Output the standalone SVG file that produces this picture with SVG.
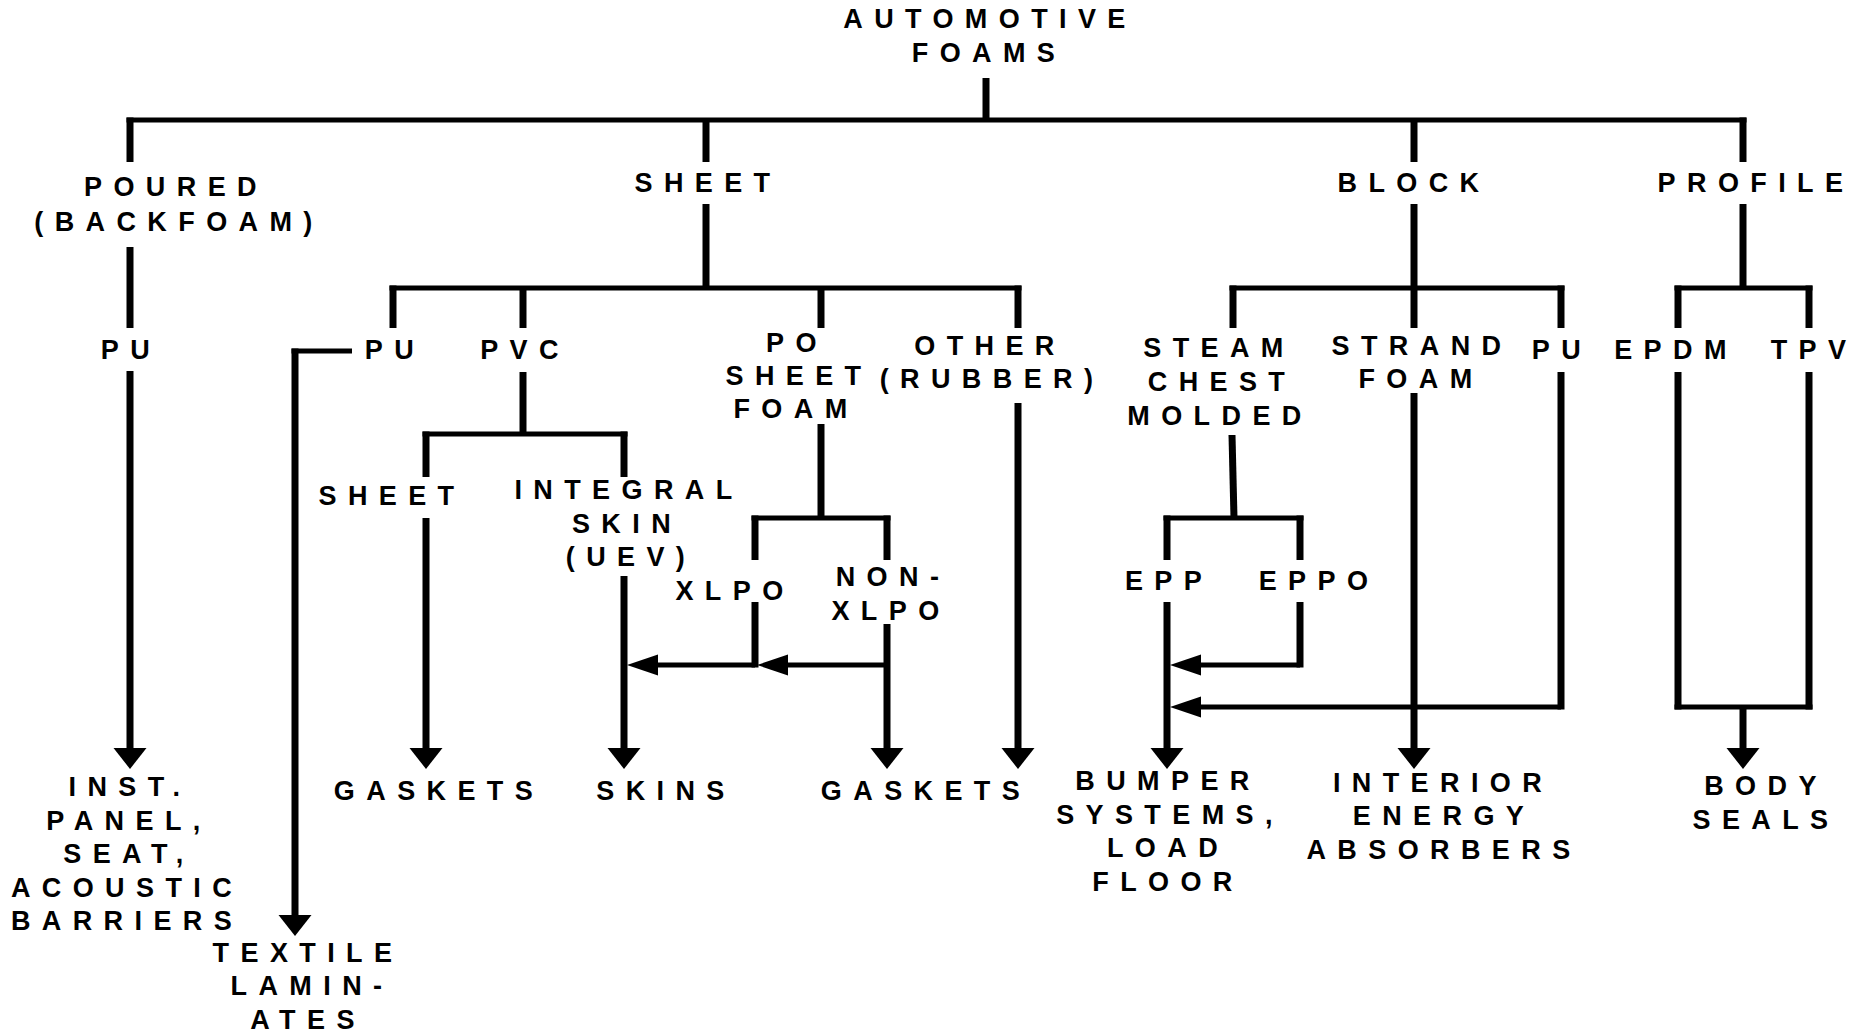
<svg xmlns="http://www.w3.org/2000/svg" width="1857" height="1034" viewBox="0 0 1857 1034">
<style>
.t{font-family:"Liberation Sans",Arial,sans-serif;font-weight:bold;font-size:27px;letter-spacing:11.4px;text-anchor:middle;fill:#000}
.v{stroke:#000;stroke-width:7;fill:none}
.h{stroke:#000;stroke-width:5;fill:none}
</style>
<defs>
<polygon id="ad" points="-16.5,-21 16.5,-21 0,0" fill="#000"/>
<polygon id="al" points="0,0 31,-10.5 31,10.5" fill="#000"/>
</defs>
<rect width="1857" height="1034" fill="#fff"/>
<g id="connectors">
<line class="v" x1="986" y1="78" x2="986" y2="120"/>
<line class="h" x1="126.5" y1="120" x2="1746.5" y2="120"/>
<line class="v" x1="130" y1="117.5" x2="130" y2="162"/>
<line class="v" x1="130" y1="247" x2="130" y2="328"/>
<line class="v" x1="130" y1="371" x2="130" y2="752"/>
<use href="#ad" x="130" y="769"/>
<line class="v" x1="706" y1="120" x2="706" y2="162"/>
<line class="v" x1="706" y1="204" x2="706" y2="288"/>
<line class="h" x1="389.5" y1="288" x2="1021.5" y2="288"/>
<line class="v" x1="393" y1="285.5" x2="393" y2="328"/>
<line class="v" x1="523" y1="288" x2="523" y2="328"/>
<line class="v" x1="821" y1="288" x2="821" y2="328"/>
<line class="v" x1="1018" y1="285.5" x2="1018" y2="328"/>
<line class="h" x1="352" y1="351" x2="291.5" y2="351"/>
<line class="v" x1="295" y1="348.5" x2="295" y2="919"/>
<use href="#ad" x="295" y="936"/>
<line class="v" x1="523" y1="372" x2="523" y2="434"/>
<line class="h" x1="422.5" y1="434" x2="627.5" y2="434"/>
<line class="v" x1="426" y1="431.5" x2="426" y2="477"/>
<line class="v" x1="426" y1="518" x2="426" y2="752"/>
<use href="#ad" x="426" y="769"/>
<line class="v" x1="624" y1="431.5" x2="624" y2="477"/>
<line class="v" x1="624" y1="576" x2="624" y2="752"/>
<use href="#ad" x="624" y="769"/>
<line class="v" x1="821" y1="424" x2="821" y2="518"/>
<line class="h" x1="751.5" y1="518" x2="890.5" y2="518"/>
<line class="v" x1="755" y1="515.5" x2="755" y2="560"/>
<line class="v" x1="887" y1="515.5" x2="887" y2="560"/>
<line class="v" x1="755" y1="602" x2="755" y2="667.5"/>
<line class="h" x1="755" y1="665" x2="650" y2="665"/>
<use href="#al" x="627" y="665"/>
<line class="v" x1="887" y1="624" x2="887" y2="752"/>
<use href="#ad" x="887" y="769"/>
<line class="h" x1="887" y1="665" x2="780" y2="665"/>
<use href="#al" x="757" y="665"/>
<line class="v" x1="1018" y1="403" x2="1018" y2="752"/>
<use href="#ad" x="1018" y="769"/>
<line class="v" x1="1414" y1="120" x2="1414" y2="162"/>
<line class="v" x1="1414" y1="204" x2="1414" y2="328"/>
<line class="h" x1="1229.5" y1="288" x2="1564.5" y2="288"/>
<line class="v" x1="1233" y1="285.5" x2="1233" y2="328"/>
<line class="v" x1="1561" y1="285.5" x2="1561" y2="328"/>
<line class="v" x1="1232" y1="435" x2="1234" y2="518"/>
<line class="h" x1="1163.5" y1="518" x2="1303.5" y2="518"/>
<line class="v" x1="1167" y1="515.5" x2="1167" y2="560"/>
<line class="v" x1="1300" y1="515.5" x2="1300" y2="560"/>
<line class="v" x1="1167" y1="602" x2="1167" y2="752"/>
<use href="#ad" x="1167" y="769"/>
<line class="v" x1="1300" y1="602" x2="1300" y2="667.5"/>
<line class="h" x1="1300" y1="665" x2="1195" y2="665"/>
<use href="#al" x="1170" y="665"/>
<line class="v" x1="1414" y1="393" x2="1414" y2="752"/>
<use href="#ad" x="1414" y="769"/>
<line class="v" x1="1561" y1="372" x2="1561" y2="709.5"/>
<line class="h" x1="1561" y1="707" x2="1195" y2="707"/>
<use href="#al" x="1170" y="707"/>
<line class="v" x1="1743" y1="117.5" x2="1743" y2="162"/>
<line class="v" x1="1743" y1="204" x2="1743" y2="288"/>
<line class="h" x1="1674.5" y1="288" x2="1812.5" y2="288"/>
<line class="v" x1="1678" y1="285.5" x2="1678" y2="328"/>
<line class="v" x1="1809" y1="285.5" x2="1809" y2="328"/>
<line class="v" x1="1678" y1="372" x2="1678" y2="709.5"/>
<line class="v" x1="1809" y1="372" x2="1809" y2="709.5"/>
<line class="h" x1="1674.5" y1="707" x2="1812.5" y2="707"/>
<line class="v" x1="1743" y1="707" x2="1743" y2="752"/>
<use href="#ad" x="1743" y="769"/>
</g>
<g id="n-root"><text class="t"><tspan x="990" y="28">AUTOMOTIVE</tspan><tspan x="989" y="62">FOAMS</tspan></text></g>
<g id="n-poured"><text class="t"><tspan x="176" y="196">POURED</tspan><tspan x="179" y="231">(BACKFOAM)</tspan></text></g>
<g id="n-sheet"><text class="t" x="708" y="192">SHEET</text></g>
<g id="n-block"><text class="t" x="1414" y="192">BLOCK</text></g>
<g id="n-profile"><text class="t" x="1756" y="192">PROFILE</text></g>
<g id="n-pu1"><text class="t" x="131" y="359">PU</text></g>
<g id="n-pu2"><text class="t" x="395" y="359">PU</text></g>
<g id="n-pvc"><text class="t" x="525" y="359">PVC</text></g>
<g id="n-po"><text class="t"><tspan x="797" y="352">PO</tspan><tspan x="799" y="385">SHEET</tspan><tspan x="796" y="418">FOAM</tspan></text></g>
<g id="n-other"><text class="t"><tspan x="990" y="355">OTHER</tspan><tspan x="992" y="388">(RUBBER)</tspan></text></g>
<g id="n-steam"><text class="t"><tspan x="1219" y="357">STEAM</tspan><tspan x="1222" y="391">CHEST</tspan><tspan x="1220" y="425">MOLDED</tspan></text></g>
<g id="n-strand"><text class="t"><tspan x="1422" y="355">STRAND</tspan><tspan x="1421" y="388">FOAM</tspan></text></g>
<g id="n-pu3"><text class="t" x="1562" y="359">PU</text></g>
<g id="n-epdm"><text class="t" x="1676" y="359">EPDM</text></g>
<g id="n-tpv"><text class="t" x="1814" y="359">TPV</text></g>
<g id="n-sheet2"><text class="t" x="392" y="505">SHEET</text></g>
<g id="n-integral"><text class="t"><tspan x="629" y="499">INTEGRAL</tspan><tspan x="627" y="533">SKIN</tspan><tspan x="631" y="566">(UEV)</tspan></text></g>
<g id="n-xlpo"><text class="t" x="735" y="600">XLPO</text></g>
<g id="n-nonxlpo"><text class="t"><tspan x="893" y="586">NON-</tspan><tspan x="891" y="620">XLPO</tspan></text></g>
<g id="n-epp"><text class="t" x="1169" y="590">EPP</text></g>
<g id="n-eppo"><text class="t" x="1319" y="590">EPPO</text></g>
<g id="n-inst"><text class="t"><tspan x="130" y="796">INST.</tspan><tspan x="129" y="830">PANEL,</tspan><tspan x="129" y="863">SEAT,</tspan><tspan x="127" y="897">ACOUSTIC</tspan><tspan x="127" y="930">BARRIERS</tspan></text></g>
<g id="n-textile"><text class="t"><tspan x="308" y="962">TEXTILE</tspan><tspan x="312" y="995">LAMIN-</tspan><tspan x="308" y="1029">ATES</tspan></text></g>
<g id="n-gaskets1"><text class="t" x="439" y="800">GASKETS</text></g>
<g id="n-skins"><text class="t" x="666" y="800">SKINS</text></g>
<g id="n-gaskets2"><text class="t" x="926" y="800">GASKETS</text></g>
<g id="n-bumper"><text class="t"><tspan x="1168" y="790">BUMPER</tspan><tspan x="1170" y="824">SYSTEMS,</tspan><tspan x="1168" y="857">LOAD</tspan><tspan x="1168" y="891">FLOOR</tspan></text></g>
<g id="n-interior"><text class="t"><tspan x="1443" y="792">INTERIOR</tspan><tspan x="1444" y="825">ENERGY</tspan><tspan x="1444" y="859">ABSORBERS</tspan></text></g>
<g id="n-body"><text class="t"><tspan x="1766" y="795">BODY</tspan><tspan x="1766" y="829">SEALS</tspan></text></g>
</svg>
